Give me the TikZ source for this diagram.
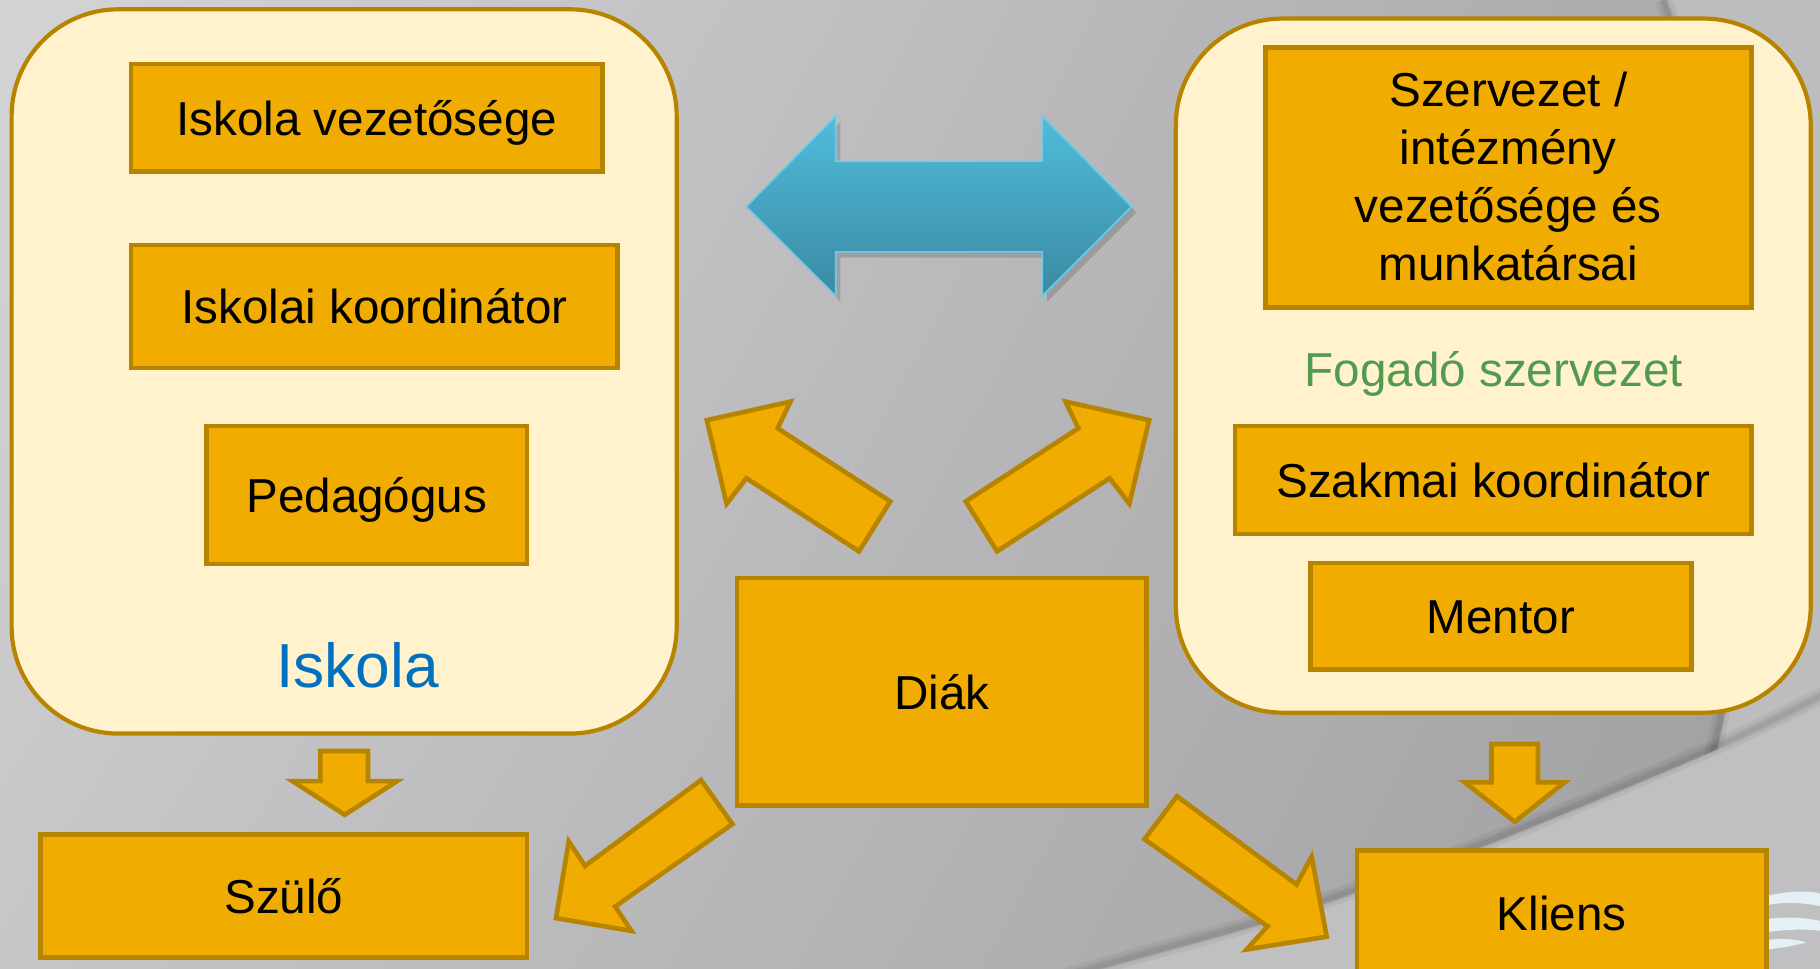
\documentclass[tikz,border=0pt]{standalone}
\usepackage{fontspec}
\setmainfont{Liberation Sans}
\usetikzlibrary{shadings}
\definecolor{oF}{RGB}{240,172,0}
\definecolor{oD}{RGB}{183,132,0}
\definecolor{cream}{RGB}{255,242,204}
\definecolor{blueT}{RGB}{0,112,192}
\definecolor{greenT}{RGB}{80,155,80}
\definecolor{arT}{RGB}{80,188,218}
\definecolor{arB}{RGB}{58,138,163}
\definecolor{arE}{RGB}{110,205,230}
\definecolor{bgTL}{RGB}{212,212,214}
\definecolor{bgTR}{RGB}{168,168,170}
\definecolor{bgBL}{RGB}{198,198,200}
\definecolor{bgBR}{RGB}{158,158,160}
\definecolor{bgLight}{RGB}{189,189,191}
\definecolor{bgLight2}{RGB}{192,192,194}
\definecolor{logo}{RGB}{228,240,246}
\begin{document}
\begin{tikzpicture}[x=0.5pt,y=-0.5pt,
  box/.style={draw=oD, fill=oF, line width=2pt, text=black,
    font=\fontsize{20.5}{25}\selectfont, align=center, inner sep=0pt},
  one/.style={text height=15pt, text depth=0pt},
  cont/.style={draw=oD, fill=cream, line width=1.8pt, rounded corners=46pt, inner sep=0pt},
  barrow/.style={draw=oD, fill=oF, line width=2pt, line join=miter},
  lbl/.style={inner sep=0pt, font=\fontsize{20.5}{25}\selectfont},
  shad/.style={black, opacity=0.05},
]
\useasboundingbox (0,0) rectangle (1568,834);
\clip (0,0) rectangle (1568,834);
% background
\shade[upper left=bgTL, upper right=bgTR, lower left=bgBL, lower right=bgBR] (0,0) rectangle (1568,834);
\fill[bgLight] (1436,0) .. controls (1515,220) and (1530,540) .. (1453,730)
  .. controls (1446,770) and (1442,800) .. (1440,834) -- (1568,834) -- (1568,0) -- cycle;
\foreach \w in {2,4,7} {
  \draw[shad, line width=\w pt] (1433,0) .. controls (1512,220) and (1527,540) .. (1450,730)
    .. controls (1443,770) and (1439,800) .. (1437,834);
}
\fill[bgLight2] plot[smooth] coordinates {(900,850) (956,833) (1085,797) (1169,769) (1292,724) (1479,646) (1568,603) (1600,585)} -- (1600,850) -- cycle;
\foreach \w in {2,4,7} {
  \draw[shad, line width=\w pt] plot[smooth] coordinates {(900,847) (956,830) (1085,794) (1169,766) (1292,721) (1479,643) (1568,600) (1600,582)};
}
% logo fragment
\fill[logo] (1522,772) .. controls (1545,766) and (1568,768) .. (1570,771) -- (1570,781) .. controls (1550,777) and (1535,777) .. (1522,780) -- cycle;
\fill[logo] (1522,792) .. controls (1540,789) and (1560,791) .. (1570,794) -- (1570,802) .. controls (1555,800) and (1538,801) .. (1522,803) -- cycle;
\fill[logo] (1522,810) .. controls (1535,808) and (1548,809) .. (1556,812) .. controls (1545,815) and (1532,817) .. (1522,818) -- cycle;

% containers
\node[cont, minimum width=286.5pt, minimum height=312pt] (school) at (296.5,320) {};
\node[cont, minimum width=273.5pt, minimum height=299pt] (host) at (1286.5,315) {};

% boxes
\node[box, one, minimum width=203pt, minimum height=46.5pt] (v1) at (316,101.5) {Iskola vezetősége};
\node[box, one, minimum width=209.5pt, minimum height=53pt] (v2) at (322.5,264) {Iskolai koordinátor};
\node[box, one, minimum width=138pt, minimum height=59.5pt] (v3) at (316,426.5) {Pedagógus};
\node[lbl, text=blueT, font=\fontsize{26.8}{30}\selectfont, text height=19.5pt, text depth=0pt] (iskola) at (308,573) {Iskola};

\node[box, minimum width=209.5pt, minimum height=112pt, text depth=1pt] (r1) at (1299.5,153) {Szervezet /\\intézmény\\vezetősége és\\munkatársai};
\node[lbl, one, text=greenT] (fogado) at (1287,318) {Fogadó szervezet};
\node[box, one, minimum width=222.5pt, minimum height=46.5pt] (r2) at (1286.5,413.5) {Szakmai koordinátor};
\node[box, one, minimum width=164pt, minimum height=46pt] (r3) at (1293,531) {Mentor};

\node[box, one, minimum width=176.5pt, minimum height=98pt] (diak) at (811.5,596) {Diák};
\node[box, one, minimum width=209.5pt, minimum height=53pt] (szulo) at (244.5,772) {Szülő};
\node[box, one, minimum width=176.5pt, minimum height=54pt] (kliens) at (1345.5,787) {Kliens};

% blue double arrow with shadow
\fill[black, opacity=0.15] (647,183) -- (724,105) -- (724,144) -- (902,144) -- (902,105) -- (979,183)
  -- (902,260) -- (902,222) -- (724,222) -- (724,260) -- cycle;
\shade[top color=arT, bottom color=arB, draw=arE, line width=0.7pt]
  (643,178) -- (720,100) -- (720,139) -- (898,139) -- (898,100) -- (975,178)
  -- (898,255) -- (898,217) -- (720,217) -- (720,255) -- cycle;

% orange block arrows
\draw[barrow] (609,362) -- (681,346) -- (670,369) -- (767,432) -- (740,475) -- (643,412) -- (626,434) -- cycle;
\draw[barrow] (990,362) -- (918,346) -- (929,369) -- (832,432) -- (859,475) -- (956,412) -- (973,434) -- cycle;
\draw[barrow] (479,791) -- (490,725) -- (504,746) -- (604,672) -- (631,710) -- (530,781) -- (544,802) -- cycle;
\draw[barrow] (1143,807) -- (1130,738) -- (1117,762) -- (1014,686) -- (986,723) -- (1092,798) -- (1074,818) -- cycle;
\draw[barrow] (276,647) -- (317,647) -- (317,673) -- (342,673) -- (297,702) -- (252,673) -- (276,673) -- cycle;
\draw[barrow] (1285,641) -- (1325,641) -- (1325,674) -- (1348,674) -- (1305,708) -- (1262,674) -- (1285,674) -- cycle;
\end{tikzpicture}
\end{document}
